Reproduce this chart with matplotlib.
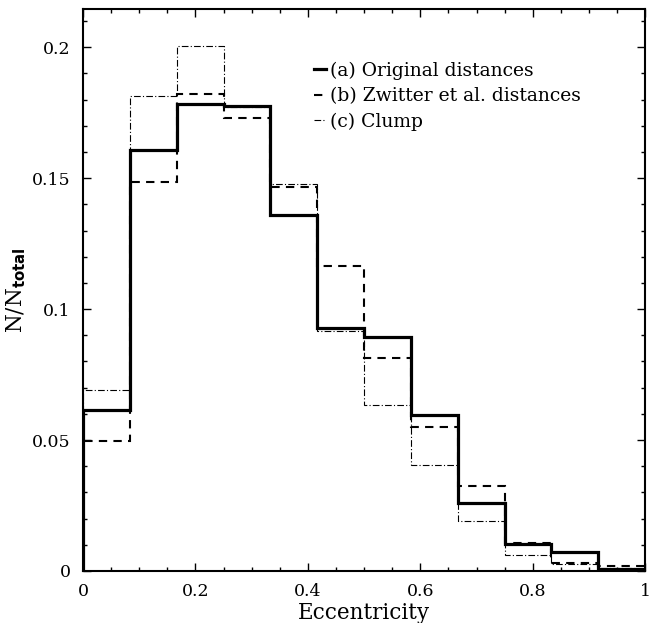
import matplotlib
matplotlib.use("Agg")
import matplotlib.pyplot as plt
import numpy as np
from matplotlib.ticker import MultipleLocator, FixedFormatter, FixedLocator

# bin edges: 12 bins over 0..1
edges = np.linspace(0, 1, 13)

original = [0.0613, 0.1607, 0.1783, 0.1775, 0.1360, 0.0927, 0.0895, 0.0596, 0.0259, 0.0103, 0.0071, 0.0006]
zwitter = [0.0497, 0.1485, 0.1822, 0.1729, 0.1466, 0.1166, 0.0812, 0.0549, 0.0324, 0.0107, 0.0029, 0.0020]
clump = [0.0693, 0.1812, 0.2006, 0.1770, 0.1479, 0.0915, 0.0633, 0.0403, 0.0191, 0.0060, 0.0026, 0.0010]

labels = ["(a) Original distances", "(b) Zwitter et al. distances", "(c) Clump"]

plt.rcParams['font.family'] = ['DejaVu Serif']

fig = plt.figure(figsize=(6.59, 6.23), dpi=100)
ax = fig.add_axes([0.126, 0.0835, 0.853, 0.902])

ax.stairs(original, edges, color='black', lw=2.3, label=labels[0])
ax.stairs(zwitter, edges, color='black', lw=1.5, ls=(0, (4, 3)), label=labels[1])
ax.stairs(clump, edges, color='black', lw=0.8, ls=(0, (6, 2, 1, 2)), label=labels[2])

ax.set_xlim(0, 1)
ax.set_ylim(0, 0.2146)

ax.xaxis.set_major_locator(FixedLocator([0, 0.2, 0.4, 0.6, 0.8, 1.0]))
ax.xaxis.set_major_formatter(FixedFormatter(["0", "0.2", "0.4", "0.6", "0.8", "1"]))
ax.xaxis.set_minor_locator(MultipleLocator(0.05))
ax.yaxis.set_major_locator(FixedLocator([0, 0.05, 0.1, 0.15, 0.2]))
ax.yaxis.set_major_formatter(FixedFormatter(["0", "0.05", "0.1", "0.15", "0.2"]))
ax.yaxis.set_minor_locator(MultipleLocator(0.01))

ax.tick_params(which='both', direction='in', top=True, right=True, labelsize=12.5, width=1)
ax.tick_params(which='major', length=6, pad=9)
ax.tick_params(which='minor', length=3)
for s in ax.spines.values():
    s.set_linewidth(1.5)

ax.set_xlabel("Eccentricity", fontsize=15.5, labelpad=1)
ax.set_ylabel(r"N/N$_{\mathbf{total}}$", fontsize=15.5, labelpad=3)

ax.legend(loc='center left', bbox_to_anchor=(0.398, 0.845), frameon=False, fontsize=13.5,
          handlelength=0.65, handletextpad=0.2, labelspacing=0.38, borderaxespad=0)

fig.savefig("out.png", dpi=100)
